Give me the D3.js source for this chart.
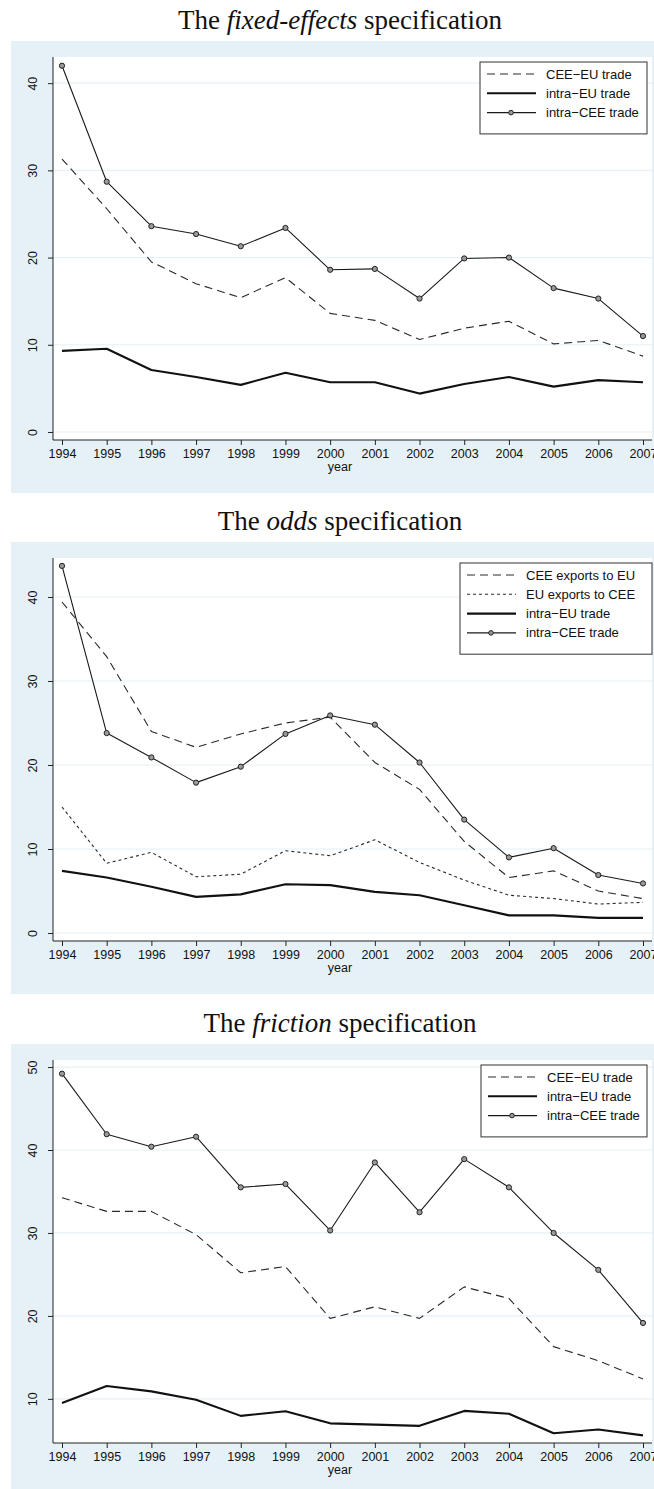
<!DOCTYPE html>
<html>
<head>
<meta charset="utf-8">
<script src="https://cdn.jsdelivr.net/npm/d3@7"></script>
<style>
  body { margin: 0; background: #fff; }
  svg { display: block; }
</style>
</head>
<body>
<div id="my_dataviz"></div>
<script>
// years on the x axis (same for all three panels)
var years = [1994, 1995, 1996, 1997, 1998, 1999, 2000, 2001, 2002, 2003, 2004, 2005, 2006, 2007]

// fixed-effects panel
var feCeeEu    = [31.3, 25.6, 19.5, 17.0, 15.4, 17.7, 13.6, 12.8, 10.6, 11.9, 12.7, 10.1, 10.5, 8.7]
var feIntraEu  = [9.3, 9.55, 7.1, 6.3, 5.4, 6.8, 5.7, 5.7, 4.4, 5.5, 6.3, 5.2, 5.95, 5.7]
var feIntraCee = [42.0, 28.7, 23.6, 22.7, 21.3, 23.4, 18.6, 18.7, 15.3, 19.9, 20.0, 16.5, 15.3, 11.0]
var feTicks    = [0, 10, 20, 30, 40]

// odds panel
var oddsCeeToEu  = [39.4, 32.9, 24.0, 22.1, 23.7, 25.0, 25.7, 20.3, 17.1, 10.9, 6.6, 7.4, 5.0, 4.1]
var oddsEuToCee  = [15.0, 8.3, 9.6, 6.7, 7.0, 9.8, 9.2, 11.1, 8.4, 6.3, 4.5, 4.1, 3.45, 3.65]
var oddsIntraEu  = [7.4, 6.6, 5.5, 4.3, 4.6, 5.8, 5.7, 4.9, 4.5, 3.3, 2.1, 2.1, 1.8, 1.8]
var oddsIntraCee = [43.7, 23.8, 20.9, 17.9, 19.8, 23.7, 25.9, 24.8, 20.3, 13.5, 9.0, 10.1, 6.9, 5.9]
var oddsTicks    = [0, 10, 20, 30, 40]

// friction panel
var frCeeEu    = [34.25, 32.6, 32.6, 29.8, 25.2, 25.95, 19.7, 21.1, 19.7, 23.5, 22.1, 16.3, 14.6, 12.4]
var frIntraEu  = [9.5, 11.55, 10.9, 9.9, 7.95, 8.5, 7.05, 6.9, 6.75, 8.55, 8.2, 5.85, 6.3, 5.6]
var frIntraCee = [49.2, 41.9, 40.4, 41.6, 35.5, 35.9, 30.3, 38.5, 32.5, 38.9, 35.5, 30.0, 25.55, 19.15]
var frTicks    = [10, 20, 30, 40, 50]

var width = 654
    height = 1489

var bgColor = "#e6f1f7"
var gridColor = "#e6f0f5"
var sansFont = "'Liberation Sans', Arial, sans-serif"

// line styles used in the legends and on the plot
var styles = {
  dash:  { width: 1.1, dash: "8,5", color: "#2a2a2a", marker: false },
  dot:   { width: 1.1, dash: "3,3", color: "#2a2a2a", marker: false },
  thick: { width: 2.1, dash: null,  color: "#111",    marker: false },
  thin:  { width: 1.1, dash: null,  color: "#1a1a1a", marker: true }
}

var panels = [
  {
    pre: "The ", em: "fixed-effects", post: " specification",
    top: 0, yDomain: [-0.92, 43.0], ticks: feTicks,
    legendX: 480, legendW: 167,
    series: [
      { name: "CEE\u2212EU trade", values: feCeeEu, style: "dash" },
      { name: "intra\u2212EU trade", values: feIntraEu, style: "thick" },
      { name: "intra\u2212CEE trade", values: feIntraCee, style: "thin" }
    ]
  },
  {
    pre: "The ", em: "odds", post: " specification",
    top: 501, yDomain: [-0.95, 44.64], ticks: oddsTicks,
    legendX: 460, legendW: 192,
    series: [
      { name: "CEE exports to EU", values: oddsCeeToEu, style: "dash" },
      { name: "EU exports to CEE", values: oddsEuToCee, style: "dot" },
      { name: "intra\u2212EU trade", values: oddsIntraEu, style: "thick" },
      { name: "intra\u2212CEE trade", values: oddsIntraCee, style: "thin" }
    ]
  },
  {
    pre: "The ", em: "friction", post: " specification",
    top: 1003, yDomain: [4.68, 50.85], ticks: frTicks,
    legendX: 481, legendW: 166,
    series: [
      { name: "CEE\u2212EU trade", values: frCeeEu, style: "dash" },
      { name: "intra\u2212EU trade", values: frIntraEu, style: "thick" },
      { name: "intra\u2212CEE trade", values: frIntraCee, style: "thin" }
    ]
  }
]

var svg = d3.select("#my_dataviz")
  .append("svg")
    .attr("width", width)
    .attr("height", height)

// x scale is shared
var x = d3.scaleLinear()
  .domain([1994, 2007])
  .range([62, 643])

panels.forEach(function(p) {
  var g = svg.append("g").attr("transform", "translate(0," + p.top + ")")
  var plotTop = 57, plotBottom = 440, plotLeft = 53, plotRight = 652

  // title, latex-ish serif
  var title = g.append("text")
    .attr("x", 340)
    .attr("y", 29)
    .attr("text-anchor", "middle")
    .style("font-family", "'Liberation Serif', 'Times New Roman', serif")
    .style("font-size", "27px")
    .style("fill", "#111")
  title.append("tspan").text(p.pre)
  title.append("tspan").style("font-style", "italic").text(p.em)
  title.append("tspan").text(p.post)

  // light blue graph region, white plot region
  g.append("rect")
    .attr("x", 11).attr("y", 41)
    .attr("width", width - 11).attr("height", 493 - 41)
    .attr("fill", bgColor)
  g.append("rect")
    .attr("x", plotLeft).attr("y", plotTop)
    .attr("width", plotRight - plotLeft).attr("height", plotBottom - plotTop)
    .attr("fill", "#fff")

  var y = d3.scaleLinear()
    .domain(p.yDomain)
    .range([plotBottom, plotTop])

  // gridlines
  g.selectAll(".grid")
    .data(p.ticks)
    .enter().append("line")
      .attr("x1", plotLeft).attr("x2", plotRight)
      .attr("y1", function(d) { return y(d) })
      .attr("y2", function(d) { return y(d) })
      .attr("stroke", gridColor)
      .attr("stroke-width", 1.2)

  // y axis
  var yAxis = g.append("g")
    .attr("transform", "translate(" + plotLeft + ",0)")
    .call(d3.axisLeft(y).tickValues(p.ticks).tickSize(5).tickSizeOuter(0).tickPadding(0))
  yAxis.select(".domain").attr("d", "M0," + plotTop + "V" + plotBottom).attr("stroke", "#222")
  yAxis.selectAll(".tick line").attr("stroke", "#222")
  yAxis.selectAll(".tick text")
    .attr("x", 0).attr("dy", null)
    .attr("transform", "translate(-16,0) rotate(-90)")
    .attr("text-anchor", "middle")
    .style("font-family", sansFont)
    .style("font-size", "12.5px")
    .style("fill", "#111")

  // x axis
  var xAxis = g.append("g")
    .attr("transform", "translate(0," + plotBottom + ")")
    .call(d3.axisBottom(x).tickValues(years).tickFormat(d3.format("d")).tickSize(5).tickSizeOuter(0).tickPadding(4))
  xAxis.select(".domain").attr("d", "M" + plotLeft + ",0H" + plotRight).attr("stroke", "#222")
  xAxis.selectAll(".tick line").attr("stroke", "#222")
  xAxis.selectAll(".tick text")
    .style("font-family", sansFont)
    .style("font-size", "12.5px")
    .style("fill", "#111")

  g.append("text")
    .attr("x", 340)
    .attr("y", 471)
    .attr("text-anchor", "middle")
    .style("font-family", sansFont)
    .style("font-size", "12.5px")
    .style("fill", "#111")
    .text("year")

  var line = d3.line()
    .x(function(d, i) { return x(years[i]) })
    .y(function(d) { return y(d) })

  p.series.forEach(function(s) {
    var st = styles[s.style]
    g.append("path")
      .datum(s.values)
      .attr("d", line)
      .attr("fill", "none")
      .attr("stroke", st.color)
      .attr("stroke-width", st.width)
      .attr("stroke-dasharray", st.dash)
      .attr("stroke-linejoin", "round")
    if (st.marker) {
      g.selectAll(null)
        .data(s.values)
        .enter().append("circle")
          .attr("cx", function(d, i) { return x(years[i]) })
          .attr("cy", function(d) { return y(d) })
          .attr("r", 2.6)
          .attr("fill", "#9a9a9a")
          .attr("stroke", "#222")
          .attr("stroke-width", 1)
    }
  })

  // legend box in the top right corner
  var lh = 19.3
  var legTop = plotTop + 5
  var leg = g.append("g")
  leg.append("rect")
    .attr("x", p.legendX).attr("y", legTop)
    .attr("width", p.legendW).attr("height", 11 + lh * p.series.length + 3)
    .attr("fill", "#fff")
    .attr("stroke", "#333")
    .attr("stroke-width", 1)
  p.series.forEach(function(s, i) {
    var st = styles[s.style]
    var ly = legTop + 12 + i * lh
    leg.append("line")
      .attr("x1", p.legendX + 7).attr("x2", p.legendX + 56)
      .attr("y1", ly).attr("y2", ly)
      .attr("stroke", st.color)
      .attr("stroke-width", st.width)
      .attr("stroke-dasharray", st.dash)
    if (st.marker) {
      leg.append("circle")
        .attr("cx", p.legendX + 31).attr("cy", ly).attr("r", 2.3)
        .attr("fill", "#9a9a9a").attr("stroke", "#222").attr("stroke-width", 1)
    }
    leg.append("text")
      .attr("x", p.legendX + 66)
      .attr("y", ly + 4.5)
      .style("font-family", sansFont)
      .style("font-size", "13px")
      .style("fill", "#111")
      .text(s.name)
  })
})
</script>
</body>
</html>
